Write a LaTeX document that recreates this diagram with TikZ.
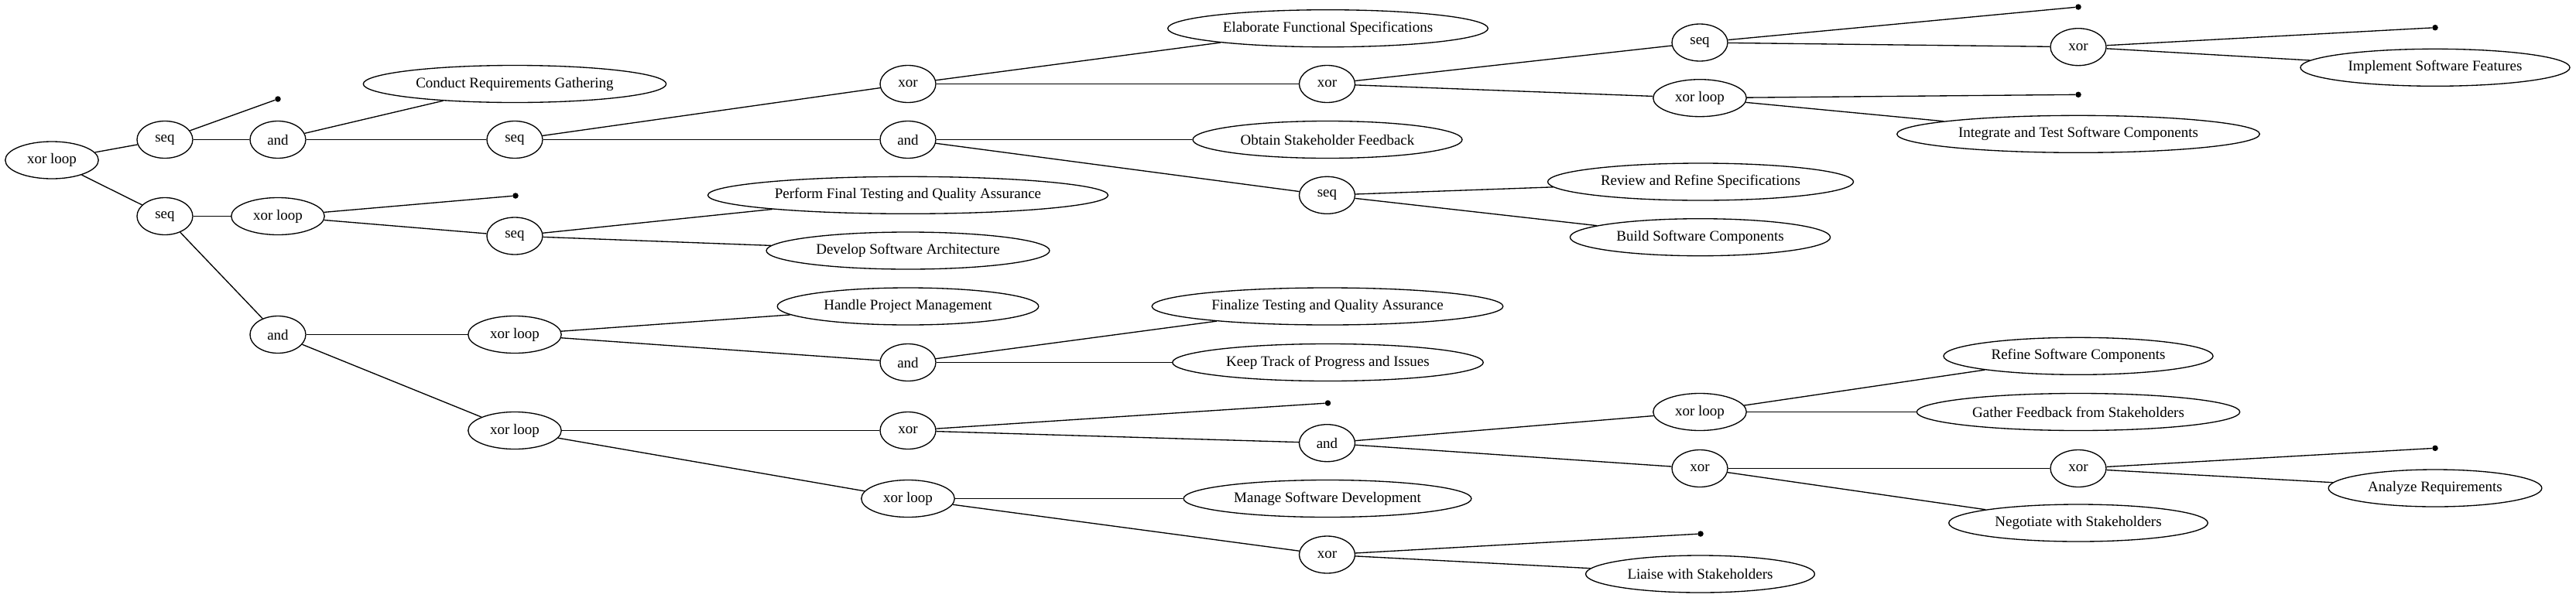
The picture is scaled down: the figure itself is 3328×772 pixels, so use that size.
\documentclass[tikz,border=0pt]{standalone}
\usepackage{fontspec}
\setmainfont{Liberation Serif}
\usetikzlibrary{shapes.geometric}
\begin{document}
\begin{tikzpicture}[x=1pt,y=-1pt,
  op/.style={ellipse, draw, line width=1.33pt, minimum width=72pt, minimum height=48pt,
    inner xsep=10.67pt, inner ysep=0pt, font=\fontsize{19}{22}\selectfont},
  enddot/.style={circle, fill=black, draw=none, inner sep=0pt, minimum size=7.5pt},
  conn/.style={line width=1.33pt}]
\useasboundingbox (0,0) rectangle (3328,772);
% column 0-1
\node[op] (root) at (67,207) {xor loop};
\node[op] (A1) at (213,180.5) {seq};
\node[op] (A2) at (213,279.5) {seq};
% column 2
\node[enddot] (d1) at (359,128) {};
\node[op] (B1) at (359,180.5) {and};
\node[op] (B2) at (359,279.5) {xor loop};
\node[op] (B3) at (359,432.5) {and};
% column 3
\node[op] (Conduct) at (665,108.5) {Conduct Requirements Gathering};
\node[op] (C1) at (665,180.5) {seq};
\node[enddot] (d2) at (666,253) {};
\node[op] (C2) at (665,305) {seq};
\node[op] (C3) at (665,432.5) {xor loop};
\node[op] (C4) at (665,556.5) {xor loop};
% column 4
\node[op] (D1) at (1173,108.5) {xor};
\node[op] (D2) at (1173,180.5) {and};
\node[op] (Perform) at (1173,252.3) {Perform Final Testing and Quality Assurance};
\node[op] (Develop) at (1173,324) {Develop Software Architecture};
\node[op] (Handle) at (1173,396) {Handle Project Management};
\node[op] (D3) at (1173,468.5) {and};
\node[op] (D4) at (1173,556.5) {xor};
\node[op] (D5) at (1173,644.5) {xor loop};
% column 5
\node[op] (Elaborate) at (1715.5,36.7) {Elaborate Functional Specifications};
\node[op] (E1) at (1714.5,108.5) {xor};
\node[op] (Obtain) at (1715,180.5) {Obtain Stakeholder Feedback};
\node[op] (E2) at (1714.5,252.3) {seq};
\node[op] (Finalize) at (1715,396) {Finalize Testing and Quality Assurance};
\node[op] (Keep) at (1715.5,468.5) {Keep Track of Progress and Issues};
\node[enddot] (d6) at (1715.5,521) {};
\node[op] (E4) at (1714.5,572.7) {and};
\node[op] (Manage) at (1715,644.5) {Manage Software Development};
\node[op] (E5) at (1714.5,717) {xor};
% column 6
\node[op] (F1) at (2196,55) {seq};
\node[op] (F2) at (2196,126.7) {xor loop};
\node[op] (Review) at (2197,235) {Review and Refine Specifications};
\node[op] (Build) at (2196.5,306.7) {Build Software Components};
\node[op] (F4) at (2196,532.5) {xor loop};
\node[op] (F5) at (2196,605.5) {xor};
\node[enddot] (d7) at (2197,690) {};
\node[op] (Liaise) at (2196.5,742) {Liaise with Stakeholders};
% column 7
\node[enddot] (d3) at (2685,9) {};
\node[op] (G1) at (2685,60.7) {xor};
\node[enddot] (d5) at (2685,122.3) {};
\node[op] (Integrate) at (2685,173.3) {Integrate and Test Software Components};
\node[op] (Refine) at (2685,460.3) {Refine Software Components};
\node[op] (Gather) at (2685,532.5) {Gather Feedback from Stakeholders};
\node[op] (G5) at (2685,605.5) {xor};
\node[op] (Negotiate) at (2685,676) {Negotiate with Stakeholders};
% column 8
\node[enddot] (d4) at (3146,35.7) {};
\node[op] (Implement) at (3146,87.3) {Implement Software Features};
\node[enddot] (d8) at (3146,579.3) {};
\node[op] (Analyze) at (3146,631) {Analyze Requirements};
% edges
\draw[conn] (root) -- (A1);
\draw[conn] (root) -- (A2);
\draw[conn] (A1) -- (d1);
\draw[conn] (A1) -- (B1);
\draw[conn] (B1) -- (Conduct);
\draw[conn] (B1) -- (C1);
\draw[conn] (C1) -- (D1);
\draw[conn] (C1) -- (D2);
\draw[conn] (D1) -- (Elaborate);
\draw[conn] (D1) -- (E1);
\draw[conn] (E1) -- (F1);
\draw[conn] (E1) -- (F2);
\draw[conn] (F1) -- (d3);
\draw[conn] (F1) -- (G1);
\draw[conn] (G1) -- (d4);
\draw[conn] (G1) -- (Implement);
\draw[conn] (F2) -- (d5);
\draw[conn] (F2) -- (Integrate);
\draw[conn] (D2) -- (Obtain);
\draw[conn] (D2) -- (E2);
\draw[conn] (E2) -- (Review);
\draw[conn] (E2) -- (Build);
\draw[conn] (A2) -- (B2);
\draw[conn] (A2) -- (B3);
\draw[conn] (B2) -- (d2);
\draw[conn] (B2) -- (C2);
\draw[conn] (C2) -- (Perform);
\draw[conn] (C2) -- (Develop);
\draw[conn] (B3) -- (C3);
\draw[conn] (B3) -- (C4);
\draw[conn] (C3) -- (Handle);
\draw[conn] (C3) -- (D3);
\draw[conn] (D3) -- (Finalize);
\draw[conn] (D3) -- (Keep);
\draw[conn] (C4) -- (D4);
\draw[conn] (C4) -- (D5);
\draw[conn] (D4) -- (d6);
\draw[conn] (D4) -- (E4);
\draw[conn] (E4) -- (F4);
\draw[conn] (E4) -- (F5);
\draw[conn] (F4) -- (Refine);
\draw[conn] (F4) -- (Gather);
\draw[conn] (F5) -- (G5);
\draw[conn] (F5) -- (Negotiate);
\draw[conn] (G5) -- (d8);
\draw[conn] (G5) -- (Analyze);
\draw[conn] (D5) -- (Manage);
\draw[conn] (D5) -- (E5);
\draw[conn] (E5) -- (d7);
\draw[conn] (E5) -- (Liaise);
\end{tikzpicture}
\end{document}
